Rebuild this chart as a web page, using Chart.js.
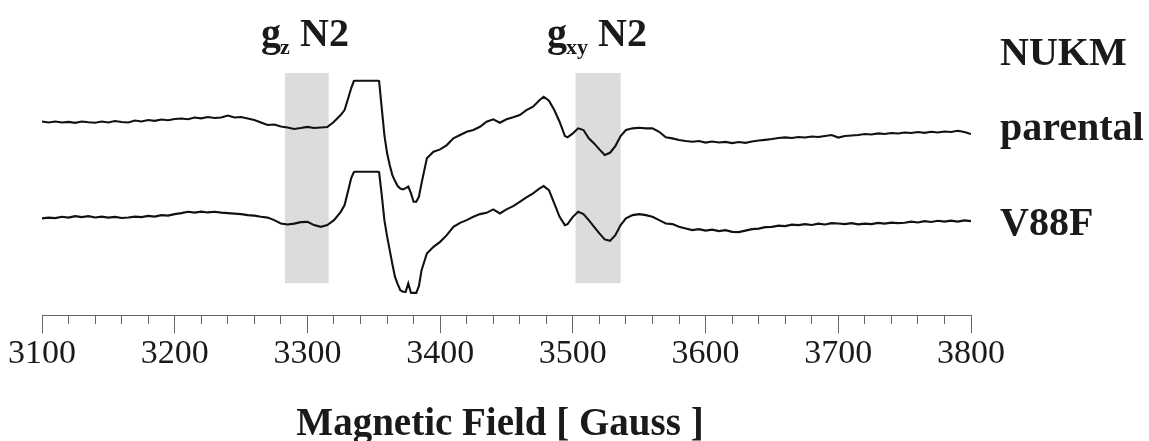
<!DOCTYPE html>
<html>
<head>
<meta charset="utf-8">
<script src="https://cdn.jsdelivr.net/npm/chart.js@4.4.0/dist/chart.umd.min.js"></script>
<style>
  html, body { margin: 0; padding: 0; background: #fff; }
</style>
</head>
<body>
<canvas id="eprChart" width="1149" height="441"></canvas>
<script>
// EPR spectra, NUKM parental vs V88F

// Magnetic field, Gauss
const fieldGauss = [
  3100, 3105, 3110, 3115, 3120, 3125, 3130, 3135, 3140, 3145,
  3150, 3155, 3160, 3165, 3170, 3175, 3180, 3185, 3190, 3195,
  3200, 3205, 3210, 3215, 3220, 3225, 3230, 3235, 3240, 3245,
  3250, 3255, 3260, 3265, 3270, 3275, 3280, 3285, 3290, 3295,
  3300, 3305, 3310, 3315,
  3320, 3325, 3328, 3331, 3333, 3335, 3336, 3353,
  3354, 3356, 3358, 3360, 3362, 3364, 3366, 3368, 3370, 3372, 3374, 3376, 3378, 3380, 3382, 3384, 3386,
  3390, 3395, 3400, 3405, 3410, 3415, 3420, 3425, 3430, 3435, 3440, 3445, 3450, 3455, 3460, 3465, 3470, 3475,
  3478, 3482, 3486, 3490, 3494, 3496,
  3500, 3504, 3508, 3512, 3516, 3520, 3524, 3528, 3532, 3536, 3540,
  3545, 3550, 3555, 3560, 3565, 3570, 3575, 3580, 3585, 3590,
  3595, 3600, 3605, 3610, 3615, 3620, 3625, 3630, 3635, 3640,
  3645, 3650, 3655, 3660, 3665, 3670, 3675, 3680, 3685, 3690,
  3695, 3700, 3705, 3710, 3715, 3720, 3725, 3730, 3735, 3740,
  3745, 3750, 3755, 3760, 3765, 3770, 3775, 3780, 3785, 3790,
  3795, 3800
];

// Signal (arb. units), parental
const parentalSignal = [
  0.5, -0.5, 0.5, -0.5, 0.2, -0.8, 0.5, -0.2, -0.7, 0.5,
  -0.5, 1, 0, -0.5, 1.5, 0.5, 2, 1.2, 2.5, 1.8,
  3, 3.5, 2.8, 4.5, 3.7, 5, 4, 4.5, 6.5, 4.5,
  5, 3.5, 2, -0.5, -3, -2.5, -4.5, -5.5, -7, -6,
  -4.8, -6, -5.5, -5,
  0.3, 7, 12, 25, 34, 41, 41.3, 41.3,
  41, 14, -13, -31, -43, -53, -59, -64, -66.5, -67.3, -66, -64.5, -71, -79.7, -79.7, -74.7, -61,
  -36.3, -29.7, -27.3, -23, -16.3, -13, -9.7, -8, -4.7, 0.3, 2.7, -0.7, 2.7, 4.7, 7, 12, 15.3, 22,
  25.3, 21.3, 12, 0.3, -14, -15.3,
  -11.3, -6.3, -8, -16.3, -21.3, -27.3, -33, -30.7, -24, -14, -8,
  -6.3, -5.7, -6.3, -6.3, -9.7, -15.3, -16.3, -18, -19, -19.7,
  -19, -20.5, -19.5, -20.5, -19.8, -21, -20, -20.8, -19.5, -18.5,
  -17.8, -17, -16, -15.3, -16, -15, -15.5, -14.5, -15, -14,
  -13, -15.5, -14, -13.5, -13, -12, -12.5, -11.3, -12, -11,
  -11.5, -10.5, -11, -10, -10.8, -9.7, -10.5, -9.5, -10, -8.7,
  -10, -12
];

// Signal (arb. units), V88F
const v88fSignal = [
  -1.3, -0.5, -1, 0.3, -0.5, 1, 0, 1, -0.3, 0.5,
  -0.5, 0.2, -0.8, -0.3, 0.5, 0, 1.2, 0.5, 2, 1.5,
  3, 4, 5.3, 4.5, 5.5, 4.7, 5.3, 4.5, 4, 3.5,
  3, 2, 1.5, 0.3, -0.5, -3, -6.3, -7.3, -6.5, -5,
  -4.7, -8, -9.7, -8,
  -3, 5, 12, 28, 39, 45, 45.3, 45.3,
  45, 22, -3, -19, -33, -47, -59.7, -67, -73, -74.5, -74.7, -66.3, -75.5, -75.7, -75.7, -69, -53,
  -36.3, -29.7, -24.7, -18, -9.7, -5.7, -3, 0.3, 3, 4.3, 7.7, 3.7, 7.7, 11, 15.3, 19.7, 23.7, 28.7,
  31, 27, 13.7, 0.3, -8, -7,
  0.3, 5.3, 3, -3, -9.7, -16.3, -22.3, -23.7, -18, -8, -1.3,
  2, 3, 2, 0.3, -3, -6.3, -7, -9.7, -11.3, -13,
  -12, -13.5, -12.5, -14, -13, -14.7, -15, -13.5, -12, -11.5,
  -10, -9.7, -8.5, -9, -7.5, -8, -7, -7.8, -6.5, -7.3,
  -6, -6.3, -7, -6, -7.2, -6.5, -7, -5.8, -6.5, -5.5,
  -6, -5.7, -4.5, -5.3, -4, -4.8, -3.7, -4.5, -3.5, -4.5,
  -3.3, -4
];

// Stacking offsets of the two traces
const traceOffsets = [193, 98];

// Shaded field ranges (g_z N2, g_xy N2)
const shadeRanges = [[3283, 3316], [3502, 3536]];

const serif = '"Liberation Serif", "Times New Roman", serif';
Chart.defaults.font.family = serif;

// Shaded bands and texts
const annotations = {
  id: 'annotations',
  beforeDatasetsDraw(chart) {
    const {ctx, scales: {x, y}} = chart;
    ctx.save();
    ctx.fillStyle = '#dcdcdc';
    shadeRanges.forEach(r => {
      const x1 = x.getPixelForValue(r[0]), x2 = x.getPixelForValue(r[1]);
      const y1 = y.getPixelForValue(242), y2 = y.getPixelForValue(32);
      ctx.fillRect(x1, y1, x2 - x1, y2 - y1);
    });
    ctx.restore();
  },
  afterDraw(chart) {
    const ctx = chart.ctx;
    ctx.save();
    ctx.fillStyle = '#1a1a1a';
    ctx.textBaseline = 'alphabetic';
    ctx.textAlign = 'left';
    const big = 'bold 40px ' + serif, small = 'bold 22px ' + serif;

    // g_z N2
    ctx.font = big; ctx.fillText('g', 261, 46);
    let w = ctx.measureText('g').width;
    ctx.font = small; ctx.fillText('z', 261 + w - 1, 54);
    ctx.font = big; ctx.fillText('N2', 300, 46);

    // g_xy N2
    ctx.font = big; ctx.fillText('g', 547, 46);
    w = ctx.measureText('g').width;
    ctx.font = small; ctx.fillText('xy', 547 + w - 1, 54);
    ctx.font = big; ctx.fillText('N2', 598, 46);

    // trace labels
    ctx.fillText('NUKM', 1000, 65);
    ctx.fillText('parental', 1000, 140);
    ctx.fillText('V88F', 1000, 235);

    // axis title
    ctx.font = 'bold 39px ' + serif;
    ctx.textAlign = 'center';
    ctx.fillText('Magnetic Field [ Gauss ]', 500, 435);
    ctx.restore();
  }
};

const eprChart = new Chart(document.getElementById('eprChart'), {
  type: 'line',
  data: {
    datasets: [
      {
        label: 'NUKM parental',
        data: fieldGauss.map((f, i) => ({x: f, y: parentalSignal[i] + traceOffsets[0]})),
        borderColor: '#111',
        borderWidth: 2.1,
        pointRadius: 0,
        tension: 0
      },
      {
        label: 'V88F',
        data: fieldGauss.map((f, i) => ({x: f, y: v88fSignal[i] + traceOffsets[1]})),
        borderColor: '#111',
        borderWidth: 2.1,
        pointRadius: 0,
        tension: 0
      }
    ]
  },
  options: {
    responsive: false,
    animation: false,
    layout: { padding: { left: 42, right: 178, top: 60, bottom: 67 } },
    plugins: { legend: { display: false }, tooltip: { enabled: false } },
    scales: {
      x: {
        type: 'linear',
        min: 3100,
        max: 3800,
        border: { display: true, color: '#666', width: 1 },
        grid: {
          drawOnChartArea: false,
          drawTicks: true,
          tickLength: 18,
          tickColor: '#666',
          tickWidth: 1,
          tickBorderDash: c => (c.tick && c.tick.value % 100 === 0) ? [] : [8, 40]
        },
        ticks: {
          stepSize: 20,
          autoSkip: false,
          maxRotation: 0,
          padding: 0,
          color: '#1a1a1a',
          font: { size: 34 },
          callback: v => (v % 100 === 0) ? String(v) : ''
        }
      },
      y: {
        display: false,
        min: 0,
        max: 255
      }
    }
  },
  plugins: [annotations]
});
</script>
</body>
</html>
